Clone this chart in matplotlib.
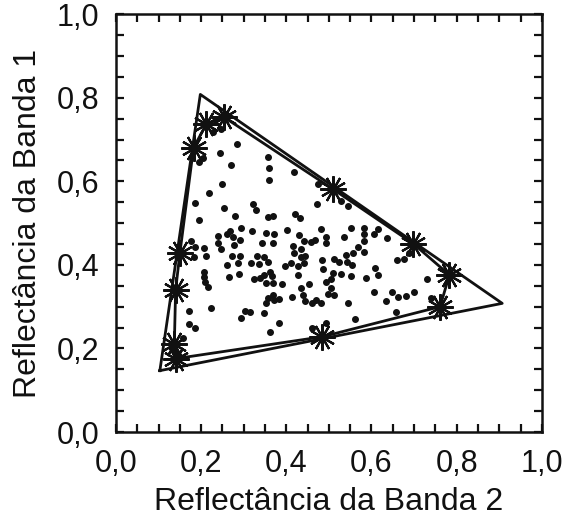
import matplotlib.pyplot as plt
from matplotlib.ticker import MultipleLocator, FuncFormatter

plt.rcParams['font.family'] = ['Liberation Sans', 'DejaVu Sans']

# Pixel scatter: band 2 (x) vs band 1 (y) reflectance
band2 = [
    0.2286, 0.2465, 0.2844, 0.1960, 0.2053, 0.2449, 0.2698, 0.3565, 0.3588, 0.3588,
    0.2495, 0.2179, 0.1860, 0.2528, 0.3216, 0.3279, 0.2791, 0.1953, 0.3565, 0.3698,
    0.2947, 0.2674, 0.3202,
    0.4186, 0.4751, 0.4714, 0.5295, 0.5442, 0.4202, 0.4319, 0.4007, 0.4807, 0.5519,
    0.5814, 0.6163,
    0.1760, 0.1844, 0.1821, 0.2077, 0.2116, 0.2402, 0.2598, 0.2402, 0.2465, 0.2751,
    0.2774, 0.2907, 0.2714, 0.2923, 0.2612, 0.2867, 0.3179, 0.3309, 0.3472, 0.3356,
    0.3581, 0.3605, 0.3465, 0.3240, 0.3372, 0.3528, 0.2891, 0.2658, 0.2077, 0.2077,
    0.2093, 0.2170, 0.1705, 0.2233, 0.3023, 0.3156, 0.3465, 0.2947, 0.1721, 0.1844,
    0.3605, 0.1574, 0.3528, 0.3435, 0.3698, 0.3512, 0.3570,
    0.3721, 0.4286, 0.4923, 0.4937, 0.5349, 0.5814, 0.5830, 0.6070, 0.6372, 0.4147,
    0.4419, 0.4574, 0.4674, 0.4186, 0.4356, 0.4342, 0.4442, 0.3977, 0.4109, 0.4263,
    0.4419, 0.4844, 0.5116, 0.5233, 0.5402, 0.5558, 0.5681, 0.5830, 0.5426, 0.5542,
    0.4860, 0.6086, 0.6163, 0.3667, 0.4263, 0.5100, 0.5286, 0.5519, 0.5877, 0.4937,
    0.5040, 0.3891, 0.3698, 0.4342, 0.4535, 0.5053, 0.3698, 0.3721, 0.3837, 0.4123,
    0.4395, 0.4435, 0.4598, 0.4691, 0.4821, 0.4977, 0.5116, 0.5449, 0.6063, 0.6472,
    0.6333, 0.5621, 0.4923, 0.4598, 0.3837,
    0.6877, 0.6588, 0.6767, 0.7302, 0.6612, 0.6821, 0.6993, 0.7388, 0.6574,
]
band1 = [
    0.7184, 0.7249, 0.6883, 0.6452, 0.6548, 0.6682, 0.6388, 0.6579, 0.6316, 0.6036,
    0.5933, 0.5725, 0.5486, 0.5366, 0.5455, 0.5304, 0.5160, 0.5072, 0.5136, 0.5160,
    0.4873, 0.4816, 0.4816,
    0.6213, 0.5926, 0.5447, 0.5526, 0.5414, 0.5215, 0.5127, 0.4833, 0.4856, 0.4873,
    0.4873, 0.4849,
    0.4569, 0.4419, 0.4194, 0.4395, 0.4211, 0.4696, 0.4737, 0.4514, 0.4378, 0.4658,
    0.4474, 0.4593, 0.4211, 0.4211, 0.3995, 0.4050, 0.4050, 0.4218, 0.4194, 0.4012,
    0.4060, 0.3821, 0.3756, 0.3653, 0.3691, 0.3572, 0.3773, 0.3715, 0.3835, 0.3715,
    0.3596, 0.3462, 0.2902, 0.2959, 0.2902, 0.2878, 0.2854, 0.2720, 0.2584, 0.2495,
    0.2385, 0.2242, 0.4754, 0.4514, 0.4514, 0.3093, 0.3218,
    0.4737, 0.4706, 0.4658, 0.4514, 0.4658, 0.4737, 0.4577, 0.4737, 0.4634, 0.4457,
    0.4569, 0.4545, 0.4586, 0.4275, 0.4378, 0.4179, 0.4218, 0.3979, 0.4036, 0.3971,
    0.4036, 0.4115, 0.4132, 0.4060, 0.4227, 0.4289, 0.4433, 0.4306, 0.4060, 0.3995,
    0.3892, 0.3931, 0.3749, 0.3732, 0.3756, 0.3797, 0.3787, 0.3739, 0.3691, 0.3589,
    0.3660, 0.3533, 0.3557, 0.3452, 0.3533, 0.3438, 0.3278, 0.3158, 0.3175, 0.3222,
    0.3270, 0.3134, 0.3079, 0.3151, 0.3079, 0.3309, 0.3278, 0.3093, 0.3349, 0.3356,
    0.3127, 0.2711, 0.2615, 0.2481, 0.2600,
    0.4275, 0.4115, 0.4139, 0.3660, 0.3237, 0.3254, 0.3342, 0.3199, 0.2864,
]

# Convex hull vertices (starred pixels)
hull_x = [0.142, 0.484, 0.761, 0.783, 0.698, 0.510, 0.253, 0.212, 0.182, 0.150, 0.140, 0.137]
hull_y = [0.176, 0.228, 0.300, 0.376, 0.451, 0.581, 0.754, 0.737, 0.680, 0.428, 0.340, 0.211]

# Enclosing triangle (endmembers)
tri_x = [0.103, 0.907, 0.198]
tri_y = [0.147, 0.308, 0.808]

fig = plt.figure(figsize=(5.67, 5.25), dpi=100)
ax = fig.add_axes([0.2046, 0.177, 0.751, 0.796])

ax.plot(tri_x + tri_x[:1], tri_y + tri_y[:1], color='#111111', lw=2, zorder=2)
ax.plot(hull_x + hull_x[:1], hull_y + hull_y[:1], color='#111111', lw=2, zorder=2)
ax.scatter(band2, band1, s=16, color='#111111', zorder=3)
ax.plot(hull_x, hull_y, ls='none', marker=(12, 2, 0), markersize=19,
        markeredgewidth=1.6, color='#111111', zorder=4)

ax.set_xlim(0, 1)
ax.set_ylim(0, 1)
ax.xaxis.set_major_locator(MultipleLocator(0.2))
ax.yaxis.set_major_locator(MultipleLocator(0.2))
ax.xaxis.set_minor_locator(MultipleLocator(0.05))
ax.yaxis.set_minor_locator(MultipleLocator(0.05))
fmt = FuncFormatter(lambda v, pos: f"{v:.1f}".replace('.', ','))
ax.xaxis.set_major_formatter(fmt)
ax.yaxis.set_major_formatter(fmt)

ax.tick_params(which='both', direction='in', top=True, right=True,
               length=6, width=1.6, color='#111111')
ax.tick_params(which='major', labelsize=22, pad=12, labelcolor='#111111')
for sp in ax.spines.values():
    sp.set_linewidth(1.8)
    sp.set_color('#111111')

ax.set_xlabel('Reflectância da Banda 2', fontsize=23, color='#111111', labelpad=6)
ax.set_ylabel('Reflectância da Banda 1', fontsize=23, color='#111111', labelpad=10)

plt.savefig('out.png', dpi=100)
